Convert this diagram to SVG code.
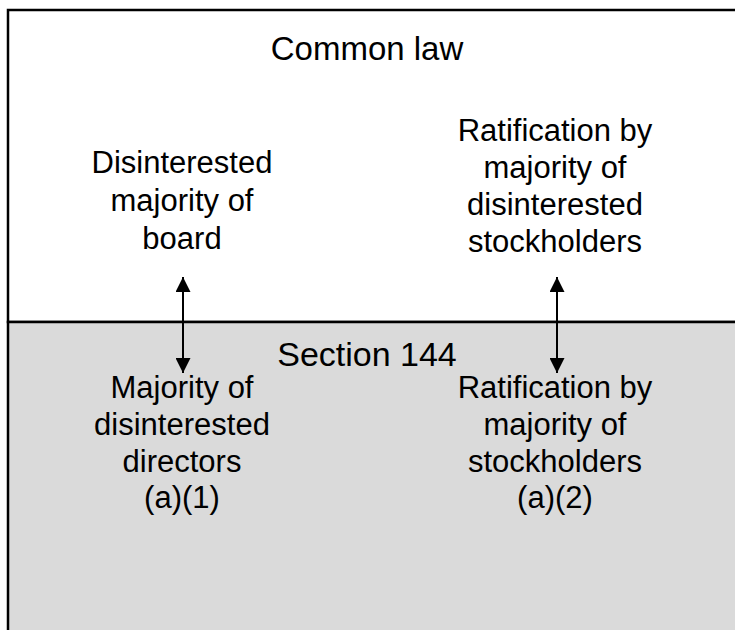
<svg xmlns="http://www.w3.org/2000/svg" width="735" height="630" viewBox="0 0 735 630">
<style>
text{font-family:"Liberation Sans",Arial,sans-serif;fill:#000;text-anchor:middle}
.b{font-size:31px}
.h{font-size:33px}
.s{font-size:34px}
.frame{stroke:#000;stroke-width:2.5}
.conn{stroke:#000;stroke-width:2;fill:none}
</style>
<defs>
<marker id="ah" viewBox="0 0 15 15" refX="15" refY="7.5" markerWidth="15" markerHeight="15" markerUnits="userSpaceOnUse" orient="auto-start-reverse">
<path d="M0,0 L15,7.5 L0,15 Z" fill="#000"/>
</marker>
</defs>
<g id="common-law">
<rect x="8" y="10" width="760" height="312" fill="#fff" class="frame"/>
<text class="h" x="367" y="60">Common law</text>
</g>
<g id="section-144">
<rect x="8" y="322" width="760" height="330" fill="#dadada" class="frame"/>
<text class="s" x="367" y="366">Section 144</text>
</g>
<g id="cl-board">
<text class="b" x="182" y="173">Disinterested</text>
<text class="b" x="182" y="211">majority of</text>
<text class="b" x="182" y="249">board</text>
</g>
<g id="cl-stockholders">
<text class="b" x="555" y="141">Ratification by</text>
<text class="b" x="555" y="178">majority of</text>
<text class="b" x="555" y="215">disinterested</text>
<text class="b" x="555" y="252">stockholders</text>
</g>
<g id="s-directors">
<text class="b" x="182" y="398">Majority of</text>
<text class="b" x="182" y="435">disinterested</text>
<text class="b" x="182" y="472">directors</text>
<text class="b" x="182" y="508">(a)(1)</text>
</g>
<g id="s-stockholders">
<text class="b" x="555" y="398">Ratification by</text>
<text class="b" x="555" y="435">majority of</text>
<text class="b" x="555" y="472">stockholders</text>
<text class="b" x="555" y="508">(a)(2)</text>
</g>
<g id="connectors">
<line class="conn" x1="183" y1="277" x2="183" y2="373" marker-start="url(#ah)" marker-end="url(#ah)"/>
<line class="conn" x1="557" y1="277" x2="557" y2="373" marker-start="url(#ah)" marker-end="url(#ah)"/>
</g>
</svg>
